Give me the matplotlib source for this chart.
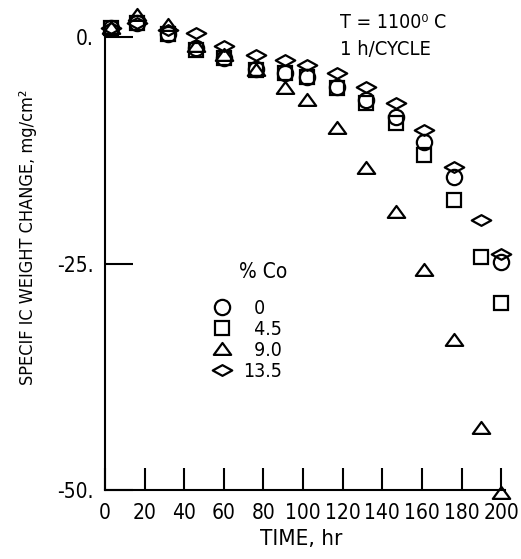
import matplotlib
matplotlib.use('Agg')
import matplotlib.pyplot as plt
from matplotlib import font_manager
from matplotlib.path import Path

# Cyclic oxidation at 1100 C, specific weight change vs time for four Co levels
time_c = [3, 16, 32, 46, 60, 76, 91, 102, 117, 132, 147, 161, 176, 200]
co_0 = [1.0, 1.5, 0.3, -1.2, -2.3, -3.5, -4.0, -4.4, -5.5, -7.0, -8.8, -11.6, -15.5, -24.8]

time_all = [3, 16, 32, 46, 60, 76, 91, 102, 117, 132, 147, 161, 176, 190, 200]
co_45 = [1.0, 1.5, 0.3, -1.4, -2.3, -3.6, -4.0, -4.4, -5.6, -7.3, -9.5, -13.0, -18.0, -24.3, -29.4]
co_90 = [1.0, 2.4, 1.3, -1.0, -2.0, -3.6, -5.6, -7.0, -10.0, -14.5, -19.3, -25.7, -33.4, -43.2, -50.3]
co_135 = [1.0, 1.6, 0.8, 0.4, -1.0, -2.0, -2.5, -3.1, -4.0, -5.5, -7.3, -10.3, -14.3, -20.2, -24.0]

# figure space keeps the single-digit labels lined up under "13.5"
co_labels = ['\u20070', '\u20074.5', '\u20079.0', '13.5']
x_ticks = list(range(0, 201, 20))
y_ticks = [0, -25, -50]
y_ticklabels = ['0.', '-25.', '-50.']

# prefer a narrow face if one is around
fonts = font_manager.fontManager.ttflist
stretch = 'normal'
main_font = 'Liberation Sans'
if any(f.name == 'Liberation Sans Narrow' for f in fonts):
    main_font = 'Liberation Sans Narrow'
else:
    for f in fonts:
        if f.stretch in ('condensed', 'semi-condensed') and 'Mono' not in f.name and 'Serif' not in f.name:
            main_font, stretch = f.name, f.stretch
            break
plt.rcParams['font.family'] = [main_font, 'DejaVu Sans']
plt.rcParams['font.stretch'] = stretch

# open triangle and flattened diamond
tri = Path([(-1, -0.62), (1, -0.62), (0, 0.75), (-1, -0.62)],
           [Path.MOVETO, Path.LINETO, Path.LINETO, Path.CLOSEPOLY])
dia = Path([(-1, 0), (0, 0.55), (1, 0), (0, -0.55), (-1, 0)],
           [Path.MOVETO, Path.LINETO, Path.LINETO, Path.LINETO, Path.CLOSEPOLY])

fig = plt.figure(figsize=(5.21, 5.59), dpi=100)
ax = fig.add_axes([0.2015, 0.1234, 0.768, 0.8265])

style = dict(linestyle='none', mfc='none', mec='black', mew=1.6, clip_on=False)
ax.plot(time_c, co_0, marker='o', ms=11, label=co_labels[0], **style)
ax.plot(time_all, co_45, marker='s', ms=10.5, label=co_labels[1], **style)
ax.plot(time_all, co_90, marker=tri, ms=12.5, label=co_labels[2], **style)
ax.plot(time_all, co_135, marker=dia, ms=14, label=co_labels[3], **style)

ax.set_xlim(0, 202)
ax.set_ylim(-50, 1)
for side in ['top', 'right']:
    ax.spines[side].set_visible(False)
for side in ['left', 'bottom']:
    ax.spines[side].set_linewidth(1.5)

ax.set_xticks(x_ticks)
ax.set_yticks(y_ticks, y_ticklabels)
ax.tick_params(axis='x', direction='in', length=16, width=1.5, pad=9, labelsize=15)
ax.tick_params(axis='y', direction='in', length=20, width=1.5, pad=8, labelsize=15)

ax.set_xlabel('TIME, hr', fontsize=16)
ax.xaxis.set_label_coords(0.49, -0.084)
ax.set_ylabel('SPECIF IC WEIGHT CHANGE, mg/cm²', fontsize=13)
ax.yaxis.set_label_coords(-0.17, 0.548)

fig.text(0.653, 0.950, 'T = 1100⁰ C', fontsize=14, va='baseline')
fig.text(0.653, 0.9016, '1 h/CYCLE', fontsize=14.5, va='baseline')

# legend heading sits well above the entries
fig.text(263 / 521, 1 - 272 / 559, '% Co', fontsize=15, ha='center', va='center')
leg = ax.legend(loc='upper left', bbox_to_anchor=(212 / 521, 1 - 299 / 559),
                bbox_transform=fig.transFigure, frameon=False, fontsize=14,
                handlelength=1.0, handletextpad=0.6, labelspacing=0.1,
                borderpad=0, borderaxespad=0)

fig.savefig('out.png', dpi=100)
